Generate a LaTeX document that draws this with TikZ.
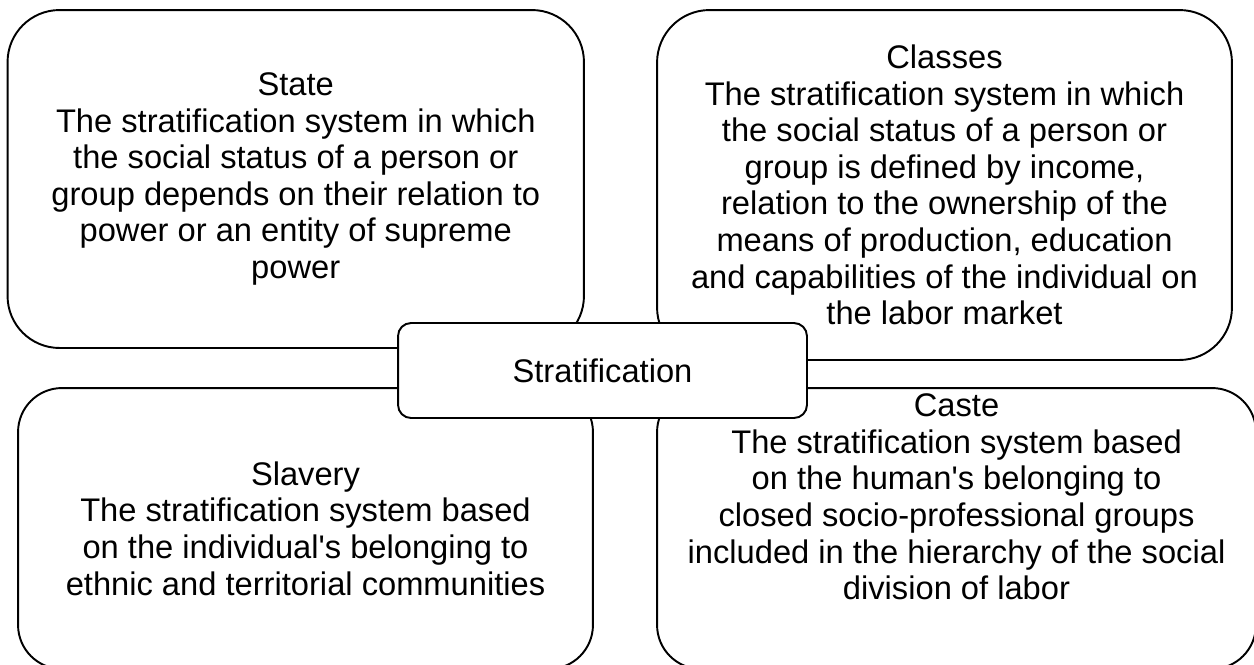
\documentclass[tikz,border=0pt]{standalone}
\usepackage{fontspec}
\setmainfont{Liberation Sans}
\tikzset{
  sysbox/.style={draw, line width=1.1pt, fill=white, rectangle, inner sep=0pt},
  systext/.style={align=center, inner sep=0pt, font=\fontsize{18.6}{20.8}\selectfont},
}
\begin{document}
\begin{tikzpicture}[x=0.02cm, y=-0.02cm]
    \useasboundingbox (0,0) rectangle (1254,664);
    % the four kinds of stratification
    \node[sysbox, systext, rounded corners=1.04cm, minimum width=11.53cm, minimum height=6.76cm] (state) at (295.75,179)
        {State\\The stratification system in which\\the social status of a person or\\group depends on their relation to\\power or an entity of supreme\\power};
    \node[sysbox, systext, rounded corners=1.05cm, minimum width=11.5cm, minimum height=7cm] (classes) at (944.5,185)
        {Classes\\The stratification system in which\\the social status of a person or\\group is defined by income,\\relation to the ownership of the\\means of production, education\\and capabilities of the individual on\\the labor market};
    \node[sysbox, systext, rounded corners=0.88cm, minimum width=11.5cm, minimum height=5.62cm] (slavery) at (305.5,528.5)
        {Slavery\\The stratification system based\\on the individual\textquotesingle s belonging to\\ethnic and territorial communities};
    \node[sysbox, rounded corners=0.88cm, minimum width=11.98cm, minimum height=5.62cm] (caste) at (956.5,528.5) {};
    \node[systext] (castetext) at ([yshift=0.63cm]caste.center)
        {Caste\\The stratification system based\\on the human\textquotesingle s belonging to\\closed socio-professional groups\\included in the hierarchy of the social\\division of labor};
    % centre box on top
    \node[sysbox, systext, rounded corners=0.26cm, minimum width=8.18cm, minimum height=1.9cm] (strat) at (602.5,370.5) {Stratification};
\end{tikzpicture}
\end{document}
